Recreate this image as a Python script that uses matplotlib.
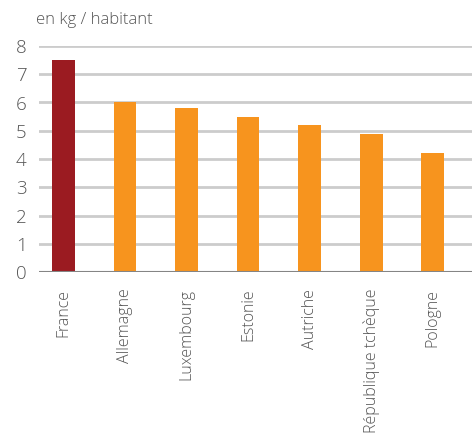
import matplotlib
matplotlib.use("Agg")
import matplotlib.pyplot as plt

# values (kg per inhabitant)
pays = ['France', 'Allemagne', 'Luxembourg', 'Estonie', 'Autriche',
        'République tchèque', 'Pologne']
valeurs = [7.5, 6.0, 5.8, 5.5, 5.2, 4.9, 4.2]
couleurs = ['#9B1B21'] + ['#F7941E'] * 6
yticks = [0, 1, 2, 3, 4, 5, 6, 7, 8]

plt.rcParams['font.family'] = ['Open Sans', 'DejaVu Sans']

fig = plt.figure(figsize=(4.72, 4.36), dpi=100)
ax = fig.add_axes([39 / 472, 1 - 272 / 436, 1 - 39 / 472, (272 - 46) / 436])

x = list(range(len(pays)))
ax.bar(x, valeurs, width=0.37, color=couleurs, zorder=3)

ax.set_ylim(0, 8)
ax.set_xlim(-0.4, 6.64)
ax.set_yticks(yticks)
ax.set_yticklabels([str(t) for t in yticks], fontsize=13.5, color='#555555',
                   fontweight='light')
ax.set_xticks(x)
ax.set_xticklabels(pays, rotation=90, fontsize=11.5, color='#555555',
                   fontweight='light', va='top', ha='center')
ax.tick_params(axis='both', length=0)
ax.tick_params(axis='y', pad=9)
ax.tick_params(axis='x', pad=12)

for t in yticks[1:]:
    ax.axhline(t, color='#CCCCCC', linewidth=2, zorder=1)
ax.axhline(0, color='#858585', linewidth=1.5, zorder=4)

for s in ax.spines.values():
    s.set_visible(False)

fig.text(36 / 472, 1 - 20 / 436, 'en kg / habitant', fontsize=12,
         color='#555555', fontweight='light', va='center', ha='left')

fig.savefig('out.png', dpi=100)
